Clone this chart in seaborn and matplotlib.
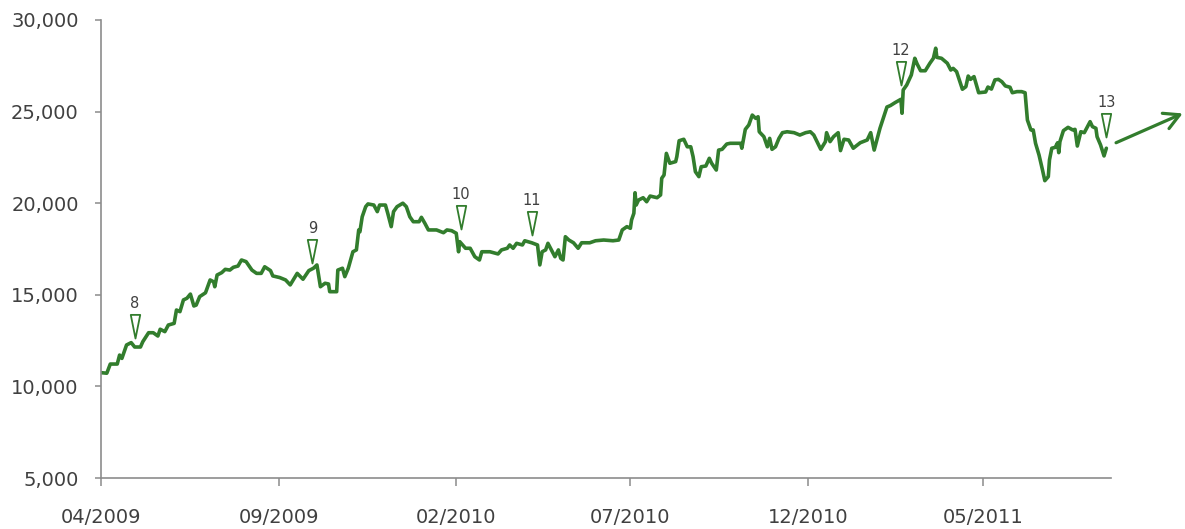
import matplotlib
matplotlib.use("Agg")
import matplotlib.pyplot as plt
from matplotlib.path import Path
from matplotlib.ticker import FuncFormatter
import pandas as pd
import seaborn as sns

# Index level, sampled through the period
dates_2009 = ["2009-04-01", "2009-04-06", "2009-04-09", "2009-04-15", "2009-04-17", "2009-04-19",
              "2009-04-23", "2009-04-27", "2009-04-30", "2009-05-05", "2009-05-07", "2009-05-12",
              "2009-05-16", "2009-05-20", "2009-05-22", "2009-05-26", "2009-05-29", "2009-06-03",
              "2009-06-05", "2009-06-08", "2009-06-11", "2009-06-14", "2009-06-17", "2009-06-20",
              "2009-06-22", "2009-06-25", "2009-06-30", "2009-07-04", "2009-07-07", "2009-07-08",
              "2009-07-10", "2009-07-14", "2009-07-17", "2009-07-21", "2009-07-24", "2009-07-28",
              "2009-07-31", "2009-08-04", "2009-08-09", "2009-08-13", "2009-08-17", "2009-08-20",
              "2009-08-25", "2009-08-27", "2009-09-02", "2009-09-07", "2009-09-11", "2009-09-17",
              "2009-09-22", "2009-09-27", "2009-10-01", "2009-10-04", "2009-10-07", "2009-10-11",
              "2009-10-14", "2009-10-15", "2009-10-21", "2009-10-22", "2009-10-26", "2009-10-28",
              "2009-10-31", "2009-11-04", "2009-11-07", "2009-11-09", "2009-11-10", "2009-11-12",
              "2009-11-15", "2009-11-17", "2009-11-22", "2009-11-25", "2009-11-27", "2009-12-02",
              "2009-12-04", "2009-12-07", "2009-12-09", "2009-12-12", "2009-12-17", "2009-12-20",
              "2009-12-23", "2009-12-26", "2009-12-31"]
index_2009 = [10750, 10720, 11220, 11220, 11710, 11530,
              12260, 12390, 12150, 12150, 12440, 12930,
              12930, 12750, 13120, 12990, 13350, 13440,
              14170, 14080, 14720, 14810, 15040, 14390,
              14440, 14900, 15110, 15810, 15710, 15440,
              16080, 16210, 16390, 16350, 16500, 16570,
              16900, 16810, 16350, 16170, 16170, 16530,
              16320, 16030, 15940, 15810, 15540, 16170,
              15850, 16320, 16450, 16630, 15440, 15630,
              15590, 15170, 15170, 16350, 16450, 15990,
              16450, 17350, 17450, 18540, 18440, 19260,
              19810, 19960, 19900, 19540, 19900, 19900,
              19450, 18720, 19540, 19810, 20000, 19810,
              19260, 18990, 18990]

dates_2010 = ["2010-01-02", "2010-01-05", "2010-01-08", "2010-01-15", "2010-01-21", "2010-01-24",
              "2010-01-28", "2010-02-01", "2010-02-03", "2010-02-04", "2010-02-09", "2010-02-13",
              "2010-02-17", "2010-02-21", "2010-02-23", "2010-03-02", "2010-03-09", "2010-03-12",
              "2010-03-17", "2010-03-19", "2010-03-22", "2010-03-25", "2010-03-30", "2010-04-01",
              "2010-04-07", "2010-04-12", "2010-04-14", "2010-04-16", "2010-04-19", "2010-04-21",
              "2010-04-24", "2010-04-27", "2010-04-30", "2010-05-02", "2010-05-04", "2010-05-06",
              "2010-05-09", "2010-05-13", "2010-05-17", "2010-05-20", "2010-05-27", "2010-06-01",
              "2010-06-08", "2010-06-16", "2010-06-21", "2010-06-24", "2010-06-28", "2010-07-01",
              "2010-07-02", "2010-07-04", "2010-07-05", "2010-07-06", "2010-07-08", "2010-07-12",
              "2010-07-15", "2010-07-18", "2010-07-24", "2010-07-27", "2010-07-28", "2010-07-30",
              "2010-08-01", "2010-08-04", "2010-08-09", "2010-08-10", "2010-08-12", "2010-08-16",
              "2010-08-19", "2010-08-22", "2010-08-24", "2010-08-26", "2010-08-29", "2010-08-31",
              "2010-09-04", "2010-09-07", "2010-09-09", "2010-09-13", "2010-09-15", "2010-09-18",
              "2010-09-22", "2010-09-25", "2010-10-04", "2010-10-05", "2010-10-08", "2010-10-11",
              "2010-10-14", "2010-10-17", "2010-10-19", "2010-10-20", "2010-10-24", "2010-10-27",
              "2010-10-29", "2010-10-31", "2010-11-03", "2010-11-06", "2010-11-09", "2010-11-13",
              "2010-11-19", "2010-11-24", "2010-11-29", "2010-12-03", "2010-12-06", "2010-12-12",
              "2010-12-16", "2010-12-17", "2010-12-20", "2010-12-23", "2010-12-27", "2010-12-29"]
index_2010 = [19230, 18900, 18540, 18540, 18390, 18540,
              18500, 18360, 17350, 17900, 17540, 17540,
              17080, 16900, 17350, 17350, 17230, 17450,
              17540, 17720, 17540, 17810, 17720, 17950,
              17840, 17720, 16630, 17350, 17450, 17810,
              17450, 17080, 17450, 16990, 16900, 18170,
              17990, 17840, 17540, 17840, 17840, 17950,
              17990, 17950, 17990, 18540, 18720, 18630,
              19080, 19450, 20570, 19900, 20170, 20300,
              20080, 20390, 20300, 20450, 21360, 21540,
              22720, 22180, 22270, 22540, 23410, 23490,
              23080, 23080, 22540, 21720, 21450, 21990,
              22030, 22450, 22180, 21810, 22900, 22940,
              23230, 23270, 23270, 23000, 24030, 24270,
              24810, 24630, 24720, 23900, 23630, 23080,
              23540, 22940, 23080, 23540, 23850, 23900,
              23850, 23720, 23850, 23900, 23720, 22940,
              23360, 23850, 23360, 23630, 23850, 22870]

dates_2011 = ["2011-01-01", "2011-01-05", "2011-01-09", "2011-01-15", "2011-01-21", "2011-01-24",
              "2011-01-27", "2011-02-01", "2011-02-07", "2011-02-10", "2011-02-14", "2011-02-19",
              "2011-02-20", "2011-02-21", "2011-02-24", "2011-02-28", "2011-03-03", "2011-03-05",
              "2011-03-08", "2011-03-12", "2011-03-16", "2011-03-19", "2011-03-21", "2011-03-22",
              "2011-03-26", "2011-03-31", "2011-04-03", "2011-04-05", "2011-04-08", "2011-04-13",
              "2011-04-16", "2011-04-18", "2011-04-20", "2011-04-23", "2011-04-27", "2011-05-03",
              "2011-05-05", "2011-05-08", "2011-05-11", "2011-05-14", "2011-05-17", "2011-05-20",
              "2011-05-24", "2011-05-26", "2011-05-30", "2011-06-03", "2011-06-06", "2011-06-08",
              "2011-06-11", "2011-06-13", "2011-06-15", "2011-06-18", "2011-06-21", "2011-06-23",
              "2011-06-26", "2011-06-27", "2011-06-29", "2011-07-02", "2011-07-04", "2011-07-05",
              "2011-07-06", "2011-07-09", "2011-07-13", "2011-07-17", "2011-07-19", "2011-07-21",
              "2011-07-24", "2011-07-27", "2011-07-29", "2011-08-01", "2011-08-03", "2011-08-06",
              "2011-08-07", "2011-08-10", "2011-08-13", "2011-08-15"]
index_2011 = [23490, 23450, 23000, 23300, 23450, 23850,
              22900, 24090, 25250, 25330, 25490, 25670,
              24910, 26180, 26450, 27000, 27910, 27600,
              27230, 27230, 27640, 27910, 28460, 27960,
              27910, 27640, 27270, 27360, 27180, 26220,
              26360, 26940, 26760, 26910, 26030, 26070,
              26340, 26230, 26730, 26760, 26630, 26400,
              26330, 26030, 26090, 26090, 26030, 24540,
              24000, 24000, 23270, 22630, 21810, 21230,
              21450, 22360, 23000, 23050, 23300, 22760,
              23360, 23960, 24140, 24000, 24030, 23120,
              23900, 23850, 24090, 24450, 24180, 24090,
              23630, 23180, 22580, 23000]

# Numbered events flagged above the line
event_labels = ["8", "9", "10", "11", "12", "13"]
event_dates = ["2009-04-30", "2009-09-30", "2010-02-05", "2010-04-07", "2011-02-19", "2011-08-15"]
event_levels = [12640, 16740, 18590, 18260, 26450, 23630]

# Axis ticks
y_ticks = [5000, 10000, 15000, 20000, 25000, 30000]
x_tick_dates = ["2009-04-01", "2009-09-01", "2010-02-01", "2010-07-01", "2010-12-01", "2011-05-01"]
x_tick_labels = ["04/2009", "09/2009", "02/2010", "07/2010", "12/2010", "05/2011"]

GREEN = "#327d2d"
AXIS_GREY = "#8c8c8c"
TEXT_GREY = "#404040"

df = pd.DataFrame({
    "date": pd.to_datetime(dates_2009 + dates_2010 + dates_2011),
    "level": index_2009 + index_2010 + index_2011,
})
events = pd.DataFrame({
    "date": pd.to_datetime(event_dates),
    "level": event_levels,
    "label": event_labels,
})

sns.set_theme(style="white")
plt.rcParams["font.family"] = ["DejaVu Sans"]

fig = plt.figure(figsize=(11.85, 5.29), dpi=100)
ax = fig.add_axes([101 / 1185, 1 - 478 / 529, (1111 - 101) / 1185, (478 - 20) / 529])

sns.lineplot(data=df, x="date", y="level", ax=ax, color=GREEN, linewidth=2.6,
             legend=False, estimator=None)

# Tall, narrow open triangle whose tip sits on the anchor point
flag = Path([(-0.2, 1.0), (0.2, 1.0), (0.0, 0.0), (-0.2, 1.0)],
            [Path.MOVETO, Path.LINETO, Path.LINETO, Path.CLOSEPOLY])
ax.scatter(events["date"], events["level"], marker=flag, s=34 ** 2,
           facecolor="white", edgecolor=GREEN, linewidths=1.3, zorder=4)
for d, lvl, lab in zip(events["date"], events["level"], events["label"]):
    ax.annotate(lab, xy=(d, lvl), xytext=(0, 21.5), textcoords="offset points",
                ha="center", va="baseline", fontsize=10.5, color=TEXT_GREY)

# Outlook arrow beyond the last observation
ax.annotate("", xy=(1.071, 0.796), xytext=(1.005, 0.732), xycoords="axes fraction",
            arrowprops=dict(arrowstyle="->,head_length=0.55,head_width=0.3", color=GREEN,
                            lw=2.3, shrinkA=0, shrinkB=0, mutation_scale=20),
            annotation_clip=False)

ax.set_xlim(pd.Timestamp("2009-04-01"), pd.Timestamp("2011-08-19"))
ax.set_ylim(5000, 30000)
ax.set_yticks(y_ticks)
ax.yaxis.set_major_formatter(FuncFormatter(lambda v, p: f"{v:,.0f}"))
ax.set_xticks(pd.to_datetime(x_tick_dates))
ax.set_xticklabels(x_tick_labels)
ax.set_xlabel("")
ax.set_ylabel("")

for side in ("top", "right"):
    ax.spines[side].set_visible(False)
for side in ("left", "bottom"):
    ax.spines[side].set_color(AXIS_GREY)
    ax.spines[side].set_linewidth(1.2)

ax.tick_params(axis="y", left=True, direction="out", length=4.5, width=1.1,
               color=AXIS_GREY, pad=11.5, labelsize=14, labelcolor=TEXT_GREY)
ax.tick_params(axis="x", bottom=True, direction="out", length=6, width=1.1,
               color=AXIS_GREY, pad=15.5, labelsize=14, labelcolor=TEXT_GREY)

fig.savefig("out.png", dpi=100)
